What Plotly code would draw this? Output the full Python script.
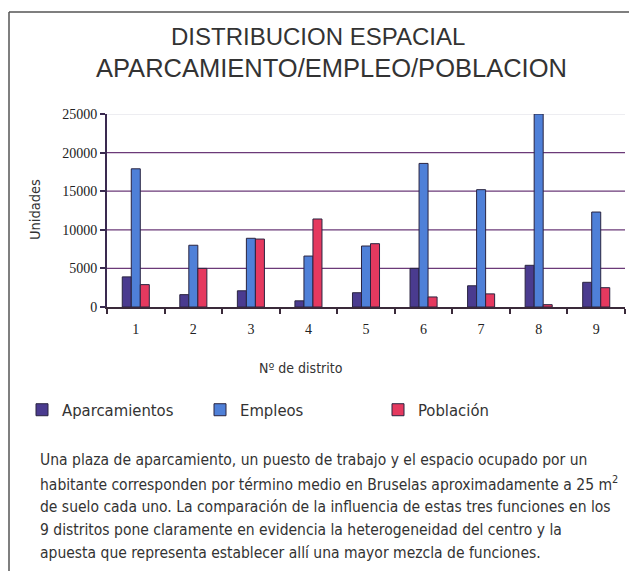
import plotly.graph_objects as go

# ---- data ----
districts = ["1", "2", "3", "4", "5", "6", "7", "8", "9"]
aparcamientos = [3900, 1600, 2100, 800, 1850, 5000, 2750, 5400, 3200]
empleos = [17900, 8000, 8900, 6600, 7900, 18600, 15200, 25000, 12300]
poblacion = [2900, 5000, 8800, 11400, 8200, 1300, 1700, 300, 2500]
y_ticks = [0, 5000, 10000, 15000, 20000, 25000]
grid_values = [5000, 10000, 15000, 20000]
series_names = ["Aparcamientos", "Empleos", "Población"]

title_lines = ["DISTRIBUCION ESPACIAL", "APARCAMIENTO/EMPLEO/POBLACION"]
body_lines = [
    "Una plaza de aparcamiento, un puesto de trabajo y el espacio ocupado por un",
    "habitante corresponden por término medio en Bruselas aproximadamente a 25 m<sup>2</sup>",
    "de suelo cada uno. La comparación de la influencia de estas tres funciones en los",
    "9 distritos pone claramente en evidencia la heterogeneidad del centro y la",
    "apuesta que representa establecer allí una mayor mezcla de funciones.",
]

# ---- layout geometry (page pixels; the page body adds an 8px margin) ----
OFF = 8
W, H = 637 - OFF, 579 - 2 * OFF
L, R, T, B = 107 - OFF, 625 - OFF, 114 - OFF, 307 - OFF


def px(x):
    return (x - OFF - L) / (R - L)


def py(y):
    return (B - (y - OFF)) / (B - T)


NARROW = "DejaVu Sans Condensed, Roboto, sans-serif"
SANS = "Liberation Sans, Arial, sans-serif"
SERIF = "Liberation Serif, Times New Roman, serif"

colors = ["#4a3b8f", "#4f80d8", "#e5395f"]
outline = "#2a2440"

fig = go.Figure()
for name, vals, col in zip(series_names, [aparcamientos, empleos, poblacion], colors):
    fig.add_trace(go.Bar(
        x=districts, y=vals, name=name,
        marker=dict(color=col, line=dict(color=outline, width=1)),
    ))

shapes = []
for g in grid_values:
    shapes.append(dict(type="line", xref="paper", yref="y", x0=0, x1=1, y0=g, y1=g,
                       line=dict(color="#6b3a78", width=1.2), layer="below"))
shapes.append(dict(type="line", xref="paper", yref="y", x0=0, x1=1, y0=y_ticks[-1], y1=y_ticks[-1],
                   line=dict(color="#dcdce4", width=1), layer="below"))
# frame (left and top border)
shapes.append(dict(type="line", xref="paper", yref="paper", x0=px(9), x1=px(9), y0=py(12), y1=py(579),
                   line=dict(color="#555555", width=1.5)))
shapes.append(dict(type="line", xref="paper", yref="paper", x0=px(9), x1=px(637), y0=py(12), y1=py(12),
                   line=dict(color="#555555", width=1.5)))

annotations = [
    dict(text=title_lines[0], x=px(318), y=py(37), xref="paper", yref="paper",
         xanchor="center", yanchor="middle", showarrow=False,
         font=dict(family=SANS, size=24, color="#333333")),
    dict(text=title_lines[1], x=px(331), y=py(68), xref="paper", yref="paper",
         xanchor="center", yanchor="middle", showarrow=False,
         font=dict(family=SANS, size=25.5, color="#333333")),
    dict(text="Unidades", x=px(35), y=py(210), xref="paper", yref="paper",
         xanchor="center", yanchor="middle", showarrow=False, textangle=-90,
         font=dict(family=NARROW, size=14.5, color="#333333")),
    dict(text="Nº de distrito", x=px(301), y=py(368), xref="paper", yref="paper",
         xanchor="center", yanchor="middle", showarrow=False,
         font=dict(family=NARROW, size=14, color="#333333")),
]
line_y = [460, 483, 507, 530, 553]
for txt, ly in zip(body_lines, line_y):
    annotations.append(dict(text=txt, x=px(38), y=py(ly), xref="paper", yref="paper",
                            xanchor="left", yanchor="middle", align="left", showarrow=False,
                            font=dict(family=NARROW, size=15.5, color="#333333")))

fig.update_layout(
    width=W, height=H,
    margin=dict(l=L, r=W - R, t=T, b=H - B),
    paper_bgcolor="white", plot_bgcolor="white",
    barmode="group", bargap=0.53, bargroupgap=0,
    shapes=shapes, annotations=annotations,
    showlegend=True,
    legend=dict(orientation="h", x=px(22), y=py(410), xanchor="left", yanchor="middle",
                entrywidth=133, entrywidthmode="pixels",
                font=dict(family=NARROW, size=16.5, color="#333333"),
                bgcolor="rgba(0,0,0,0)"),
    xaxis=dict(showline=True, linecolor="#3a2a3a", linewidth=2,
               ticks="outside", tickson="boundaries", ticklen=5, tickwidth=2, tickcolor="#3a2a3a",
               ticklabelstandoff=8,
               tickfont=dict(family=SERIF, size=14, color="#222222"), showgrid=False),
    yaxis=dict(range=[0, 25000], tickvals=y_ticks, tickformat="d", showline=True,
               linecolor="#3a2a50", linewidth=2,
               ticks="outside", ticklen=5, tickwidth=2, tickcolor="#3a2a50",
               tickfont=dict(family=SERIF, size=14, color="#222222"),
               showgrid=False, zeroline=False),
)

fig.write_html("out.html")
